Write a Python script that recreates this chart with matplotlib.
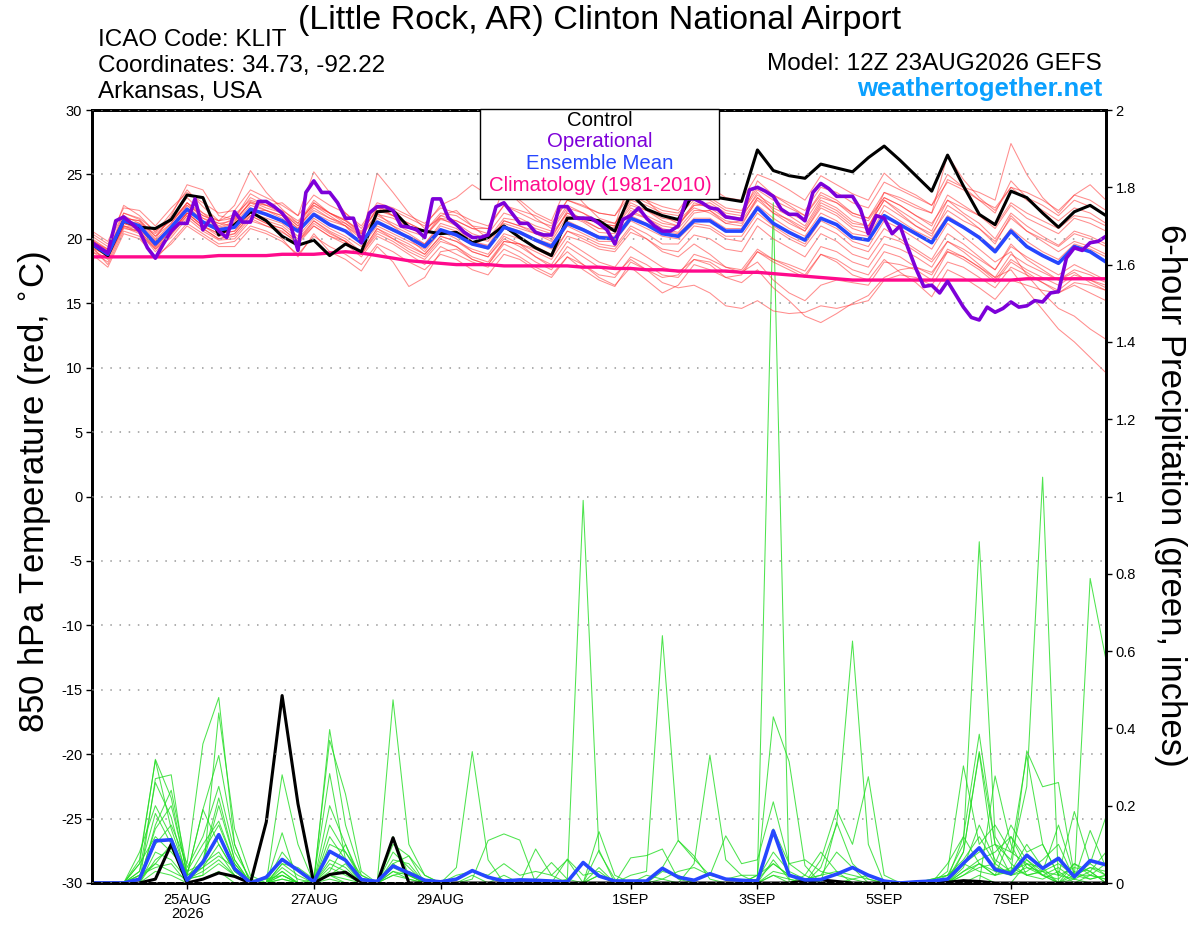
import numpy as np
import matplotlib
matplotlib.use('Agg')
import matplotlib.pyplot as plt
import matplotlib.dates as mdates
from matplotlib.patches import Rectangle
import pandas as pd

plt.rcParams['font.family'] = ['Liberation Sans', 'DejaVu Sans']

# ---------------- data ----------------
t6 = pd.date_range('2026-08-23 12:00', '2026-09-08 12:00', freq='6h')
t3 = pd.date_range('2026-08-23 12:00', '2026-09-08 12:00', freq='3h')

control_t = [19.6,18.7,21.4,20.9,20.8,21.5,23.4,23.2,20.3,21.1,22.1,
             21.4,20.2,19.5,19.9,18.7,19.6,19.0,22.1,22.2,20.9,20.6,
             20.4,20.5,19.7,20.1,21.0,20.1,19.3,18.7,21.6,21.6,21.4,
             20.6,23.5,22.3,21.8,21.5,23.6,23.3,23.1,22.9,26.9,25.3,
             24.9,24.7,25.8,25.5,25.2,26.3,27.2,26.1,24.9,23.7,26.5,
             24.1,21.9,21.1,23.7,23.2,22.0,20.9,22.1,22.6,21.8]

mean_t = [19.6,18.8,21.4,21.0,19.6,20.9,22.3,21.3,20.7,20.9,22.3,
          21.9,21.4,20.6,21.9,21.1,20.6,19.7,21.3,20.7,20.1,19.4,
          20.7,20.3,19.6,19.3,20.9,20.5,19.9,19.4,21.2,20.7,20.1,
          20.0,21.6,21.1,20.4,20.2,21.4,21.4,20.6,20.6,22.4,21.2,
          20.5,19.9,21.6,21.1,20.1,19.9,21.8,21.1,20.4,19.7,21.6,
          20.9,20.1,19.0,20.6,19.4,18.7,18.1,19.4,19.0,18.2]

clim_t = [18.6,18.6,18.6,18.6,18.6,18.6,18.6,18.6,18.7,18.7,18.7,
          18.7,18.8,18.8,18.8,18.9,19.0,18.9,18.7,18.5,18.3,18.2,
          18.1,18.0,18.0,18.0,17.9,17.9,17.9,17.9,17.9,17.8,17.8,
          17.7,17.7,17.6,17.6,17.5,17.5,17.5,17.5,17.4,17.4,17.3,
          17.2,17.1,17.0,16.9,16.8,16.8,16.8,16.8,16.8,16.8,16.8,
          16.8,16.8,16.8,16.8,16.9,16.9,16.9,16.9,16.9,16.9]

oper_t = [19.7,19.3,18.9,21.4,21.7,21.2,20.6,19.3,18.5,19.6,20.6,21.2,21.2,23.1,20.7,21.6,
          20.6,20.1,22.1,21.3,21.3,22.9,22.9,22.5,22.0,21.2,19.1,23.6,24.5,23.6,23.6,22.8,
          21.6,21.6,19.7,22.0,22.5,22.5,22.2,21.0,20.9,20.7,20.1,23.1,23.1,21.6,21.1,20.5,
          20.1,20.1,20.3,22.5,22.8,22.0,21.2,21.2,20.5,20.3,20.3,22.5,22.5,21.6,21.6,21.6,
          21.2,20.7,19.6,21.5,21.8,22.4,21.6,21.0,20.6,20.6,21.0,23.1,23.1,22.8,22.4,22.3,
          21.7,21.6,21.5,23.8,24.0,23.7,23.3,22.3,21.9,21.9,21.4,23.6,24.3,23.9,23.3,23.3,
          23.3,22.3,20.4,21.8,21.6,20.4,21.0,19.3,17.7,16.3,16.4,15.8,16.7,15.7,14.7,13.9,
          13.7,14.7,14.3,14.6,15.1,14.7,14.8,15.2,15.1,15.8,15.9,18.5,19.3,19.1,19.7,19.8,
          20.2]

mem_a = [19.9,19.0,22.0,21.5,20.2,21.6,23.2,22.0,21.0,21.6,23.5,
         22.8,22.0,21.0,22.8,22.0,21.5,20.5,22.4,21.8,21.2,20.6,
         22.0,21.8,21.0,20.8,22.6,22.0,21.4,21.0,23.0,22.5,22.0,
         21.8,23.8,23.0,22.5,22.2,23.9,24.0,23.2,23.0,25.0,24.5,
         23.8,23.0,24.9,24.2,23.5,23.0,25.1,24.0,23.4,22.6,25.0,
         24.0,23.0,22.0,24.5,23.2,22.6,21.8,23.0,22.5,21.8]
mem_b = [19.2,18.4,21.0,20.5,19.0,20.3,21.8,20.8,20.0,20.2,21.6,
         21.0,20.5,19.8,21.0,20.2,19.8,18.8,20.4,19.8,19.0,18.4,
         19.8,19.4,18.6,18.2,19.8,19.6,19.0,18.4,20.2,19.8,19.2,
         19.0,20.5,20.0,19.2,19.0,20.3,20.0,19.2,19.0,21.0,20.0,
         19.3,18.6,20.4,19.8,18.8,18.4,20.2,19.8,19.0,18.2,19.8,
         19.0,18.0,17.0,17.6,16.0,14.5,13.0,12.0,10.8,9.6]
mem_c = [20.2,19.4,22.6,21.8,20.5,22.0,23.8,22.5,21.4,22.6,25.3,
         23.6,22.3,21.2,23.0,22.0,21.2,20.2,22.0,21.0,20.4,19.6,
         21.2,20.8,19.8,19.5,21.4,21.0,20.4,19.8,21.8,21.3,20.5,
         20.4,22.2,21.6,20.8,20.5,22.0,22.2,21.2,21.0,23.2,22.0,
         21.5,20.8,22.8,22.2,21.2,21.0,23.0,22.2,21.4,20.6,23.0,
         22.0,21.2,20.0,22.0,21.0,20.2,19.5,20.6,20.2,19.6]
mem_d = [19.0,18.2,20.8,20.6,19.3,20.4,22.0,21.0,20.2,20.4,21.8,
         21.2,20.8,19.8,21.4,20.5,19.8,18.9,20.8,20.0,19.2,18.6,
         20.0,19.4,18.4,18.0,19.6,19.0,18.2,17.6,19.4,18.6,17.8,
         17.2,18.4,17.6,16.6,16.2,16.4,15.8,14.8,14.6,15.2,14.4,
         14.2,14.3,14.8,14.6,14.9,15.2,16.8,17.2,17.0,16.4,18.2,
         17.8,17.0,16.2,17.8,17.2,16.6,16.0,17.0,16.8,16.2]
mem_e = [19.8,19.2,21.2,20.8,19.8,20.6,22.0,21.6,21.2,21.0,22.2,
         22.2,21.8,20.8,22.6,21.8,21.0,19.6,21.6,21.0,20.0,19.0,
         20.6,20.0,19.0,18.6,20.2,19.6,18.6,17.8,19.0,18.0,17.0,
         16.4,17.8,16.8,15.8,16.4,18.0,17.6,17.0,17.2,19.0,18.4,
         18.0,17.5,19.4,19.0,18.2,17.8,19.6,19.2,18.6,17.8,19.8,
         19.2,18.4,17.6,19.4,18.6,17.9,17.2,18.0,17.4,16.8]
mem_f = [19.5,18.9,21.8,21.2,19.9,21.2,22.8,21.6,20.9,21.3,22.9,
         22.4,22.0,21.0,22.2,21.6,21.2,20.4,21.9,21.6,20.9,20.2,
         21.5,21.2,20.4,20.0,21.6,21.4,20.8,20.4,22.0,21.6,21.2,
         21.0,22.6,22.2,21.6,21.4,22.6,22.8,22.0,21.8,23.4,22.6,
         22.0,21.4,23.2,22.8,22.0,21.6,23.6,23.2,22.6,22.0,24.6,
         24.0,23.6,23.0,27.4,25.0,23.2,22.0,23.4,23.0,22.2]
mem_g = [19.7,18.6,21.6,21.4,20.0,21.8,24.2,23.8,21.8,21.5,22.8,
         22.6,22.8,21.8,25.2,23.6,22.0,20.8,22.6,21.8,21.0,20.2,
         21.8,22.2,21.0,20.0,21.2,20.8,20.4,20.0,22.2,21.5,20.8,
         20.9,22.4,21.8,21.2,21.0,22.8,22.4,21.6,21.6,23.6,22.2,
         21.4,20.6,22.4,21.8,20.8,20.4,22.6,21.8,21.0,20.4,22.2,
         21.4,20.8,19.8,21.6,20.6,20.0,19.4,20.4,20.0,19.4]
mem_h = [19.4,18.0,20.6,20.2,18.4,19.8,21.2,20.4,19.6,19.8,21.0,
         20.6,20.0,18.6,20.4,19.0,18.4,17.5,19.4,18.2,16.3,17.0,
         19.0,19.2,18.4,18.0,19.8,19.6,19.2,18.6,20.6,20.2,19.6,
         19.4,21.0,20.4,19.6,19.6,21.0,20.8,20.0,19.8,21.6,20.8,
         20.0,19.4,21.0,20.4,19.4,19.0,20.8,20.0,19.2,18.4,20.4,
         19.6,18.6,17.6,19.6,18.4,17.6,16.8,17.4,16.6,16.0]
mem_i = [20.0,19.2,21.4,21.2,20.4,21.4,22.6,21.8,21.4,21.9,23.0,
         22.6,22.2,21.4,22.6,22.0,21.4,20.4,22.4,22.2,21.6,21.0,
         22.6,23.2,24.2,23.4,24.0,22.8,21.6,20.8,22.6,22.0,21.2,
         21.0,24.8,23.0,21.8,21.2,22.4,22.0,21.2,21.4,23.2,22.4,
         21.8,21.0,23.0,22.4,21.4,21.0,23.0,22.0,21.0,20.2,22.6,
         21.8,20.8,19.6,21.8,20.6,19.8,19.0,19.8,19.4,18.8]
mem_j = [19.3,18.7,21.2,20.8,19.4,20.6,22.0,21.0,20.4,20.6,22.0,
         21.6,21.2,20.2,21.6,20.8,20.2,19.4,21.0,20.4,19.8,19.2,
         20.6,20.2,19.6,19.2,20.8,20.4,19.8,19.2,21.0,20.4,19.8,
         19.8,21.4,20.8,20.2,20.0,21.2,21.0,20.2,20.2,22.0,21.0,
         20.2,19.6,21.4,20.8,19.8,19.4,21.4,20.8,20.0,19.2,21.2,
         20.2,19.2,18.2,19.0,17.2,15.8,14.6,14.0,13.0,12.2]
mem_k = [19.6,19.0,21.6,21.0,19.8,21.0,22.6,21.4,20.8,21.2,22.6,
         22.2,21.6,20.6,22.0,21.4,21.0,20.0,25.1,23.6,22.0,20.8,
         21.6,21.0,20.2,19.8,21.4,21.0,20.6,20.2,22.0,21.4,20.8,
         20.6,22.0,21.6,21.0,20.8,22.2,22.2,21.4,21.2,23.0,22.0,
         21.2,20.6,22.6,22.0,21.0,20.8,23.6,23.0,22.4,22.0,26.5,
         24.6,23.2,22.2,24.0,23.0,22.2,21.4,22.4,22.0,21.2]
mem_l = [19.0,18.5,20.9,20.4,19.2,20.1,21.6,20.6,19.9,20.0,21.4,
         21.0,20.6,19.6,21.0,20.2,19.6,18.6,20.2,19.6,18.8,18.0,
         19.4,18.8,18.2,17.8,19.2,18.6,17.8,17.2,18.6,17.6,16.8,
         16.3,18.2,17.6,17.0,17.2,18.8,18.4,17.8,17.6,19.2,18.4,
         17.8,17.2,18.8,18.2,17.2,16.8,18.4,17.4,16.6,15.5,17.6,
         17.0,16.2,15.3,16.8,16.4,16.0,15.8,16.6,16.4,16.0]
mem_m = [19.8,18.9,21.2,21.0,19.7,21.0,22.4,21.2,20.6,21.0,22.4,
         21.8,21.4,20.6,21.8,21.0,20.6,19.8,21.2,20.6,20.2,19.6,
         21.0,20.6,19.8,19.4,21.0,20.6,20.0,19.6,21.4,20.8,20.2,
         20.2,21.8,21.2,20.6,20.4,21.6,21.6,20.8,20.8,22.6,21.6,
         20.8,20.2,22.0,21.4,20.4,20.2,22.2,21.4,20.6,20.0,21.8,
         21.0,20.2,19.2,20.8,19.8,19.0,18.4,19.6,19.2,18.6]
mem_n = [20.4,19.6,22.0,21.6,20.6,21.4,22.8,22.0,21.4,21.6,23.2,
         22.6,22.0,21.2,22.8,22.0,21.4,20.6,22.2,21.8,21.2,20.6,
         21.8,21.4,20.8,20.4,22.0,21.6,21.0,20.6,22.4,22.0,21.4,
         21.2,23.0,22.6,22.0,21.8,23.0,23.2,22.4,22.2,24.0,23.4,
         22.8,22.2,24.0,23.6,22.8,22.4,24.4,23.8,23.2,22.6,24.4,
         23.8,23.0,22.4,24.0,23.6,23.0,22.2,23.4,24.2,23.0]
mem_o = [19.4,18.6,21.0,20.8,19.4,20.6,22.0,21.0,20.4,20.6,22.0,
         21.4,21.0,20.0,21.4,20.6,20.0,19.0,20.8,20.2,19.6,18.8,
         20.2,19.8,19.0,18.6,20.0,19.4,18.6,18.0,19.8,19.0,18.2,
         17.8,19.4,18.6,17.8,17.4,18.4,18.0,17.0,16.6,17.6,16.2,
         15.2,14.0,13.5,14.2,15.0,15.6,17.0,17.6,17.8,17.4,19.0,
         18.6,17.8,17.0,18.8,18.0,17.4,16.8,17.6,17.2,16.6]
mem_p = [20.6,19.8,22.4,22.2,21.0,22.4,23.6,22.8,22.0,22.2,23.8,
         23.2,22.6,21.8,23.4,22.6,22.0,21.0,22.8,22.4,21.8,21.2,
         22.4,22.0,21.4,21.0,22.6,22.2,21.8,21.2,23.0,22.6,22.0,
         21.8,23.4,22.8,22.2,22.0,23.2,23.0,22.2,22.0,23.8,23.0,
         22.4,21.8,23.4,22.8,21.8,21.4,23.2,22.6,21.8,21.0,23.4,
         22.6,21.8,20.8,22.6,21.6,21.0,20.4,21.6,21.2,20.6]
mem_q = [18.8,17.8,20.4,20.0,18.6,19.6,21.0,20.2,19.4,19.4,20.8,
         20.4,19.8,18.8,20.2,19.4,18.8,18.0,19.6,19.0,18.2,17.6,
         18.8,18.4,17.6,17.2,18.8,18.4,17.6,17.0,18.6,18.0,17.2,
         17.0,18.6,18.0,17.2,17.0,18.4,18.2,17.4,17.4,19.0,18.2,
         17.6,17.0,18.8,18.4,17.6,17.2,19.0,18.6,17.8,17.2,19.2,
         18.6,17.8,16.8,18.4,17.6,17.0,16.4,17.2,16.8,16.4]
mem_r = [19.9,19.1,21.6,21.4,20.2,21.2,22.8,21.8,21.2,21.4,22.8,
         22.2,21.8,20.8,22.4,21.6,21.0,20.2,21.8,21.2,20.6,20.2,
         21.6,21.4,20.8,20.8,24.0,23.0,22.0,21.4,24.2,22.8,21.6,
         21.2,22.8,22.2,21.4,21.0,22.6,22.6,21.8,21.6,24.5,23.4,
         22.6,21.8,23.6,23.0,22.0,21.6,23.2,22.6,21.8,21.2,23.0,
         22.4,21.8,21.0,22.8,22.0,21.4,20.8,21.8,21.6,21.0]
mem_s = [19.5,18.6,21.0,20.6,19.2,20.4,21.8,20.8,20.0,20.4,21.8,
         21.2,20.8,19.8,21.2,20.4,19.8,18.8,20.6,20.0,19.4,18.8,
         20.2,19.8,19.2,18.8,20.4,20.0,19.4,18.8,20.6,20.0,19.4,
         19.2,20.8,20.0,19.0,18.6,19.6,18.8,17.8,17.4,18.2,16.8,
         15.8,15.2,16.4,16.8,16.6,16.4,18.2,18.0,17.6,16.8,19.0,
         18.4,17.6,16.6,18.2,17.4,16.6,15.8,16.4,15.8,15.2]
temp_members = [mem_a, mem_b, mem_c, mem_d, mem_e, mem_f, mem_g, mem_h, mem_i, mem_j,
                mem_k, mem_l, mem_m, mem_n, mem_o, mem_p, mem_q, mem_r, mem_s]

control_p = [0,0,0,0,0.01,0.10,0,0.01,0.026,0.017,0,
             0.158,0.485,0.205,0,0.022,0.028,0,0,0.117,0,0,
             0,0,0,0,0,0,0,0,0,0,0,
             0,0,0,0,0,0,0,0,0,0,0,
             0,0.005,0.008,0.004,0,0,0,0,0,0,0.002,
             0.006,0.004,0,0,0,0,0,0,0,0]
mean_p = [0,0,0,0.01,0.109,0.112,0.007,0.054,0.125,0.037,0,
          0.015,0.061,0.033,0.003,0.082,0.059,0.009,0.004,0.044,0.026,0.007,
          0.003,0.01,0.032,0.015,0.005,0.008,0.007,0.005,0.003,0.053,0.018,
          0.005,0.005,0.005,0.038,0.015,0.007,0.024,0.01,0.007,0.005,0.135,
          0.02,0.008,0.009,0.023,0.04,0.02,0.005,0,0.003,0.005,0.01,
          0.051,0.091,0.035,0.024,0.072,0.038,0.064,0.016,0.058,0.047]

pm_01 = [0,0,0,0.02,0.10,0.15,0.05,0.36,0.48,0.10,0,
         0,0.02,0,0,0.05,0.03,0,0,0,0,0,
         0,0,0,0,0,0,0,0,0,0,0.02,
         0,0,0,0,0,0,0,0,0,0.02,1.76,
         0,0.02,0,0,0,0,0,0,0,0,0,
         0,0.02,0,0,0.05,0.04,0,0,0,0]
pm_02 = [0,0,0,0.05,0.32,0.22,0.02,0.05,0.12,0.04,0,
         0,0.05,0.02,0,0.06,0.04,0,0,0.04,0.02,0,
         0,0,0.02,0,0,0,0,0,0.01,0.99,0.08,
         0.01,0,0,0.03,0.02,0,0,0,0,0.01,0.05,
         0.02,0,0,0,0,0,0,0,0,0,0.01,
         0.12,0.05,0.02,0.03,0.05,0.02,0.04,0.01,0.03,0]
pm_03 = [0,0,0,0,0.27,0.28,0.01,0.02,0.44,0.14,0.02,
         0,0.01,0,0,0.02,0.05,0,0,0.1,0.07,0,
         0,0,0,0,0,0,0,0,0,0,0,
         0,0.02,0.03,0.64,0.11,0.07,0.01,0,0,0,0.02,
         0.01,0,0,0,0,0,0,0,0,0,0,
         0.08,0.34,0.1,0.02,0.06,0.02,0,0.05,0.03,0]
pm_04 = [0,0,0,0.03,0.26,0.17,0.01,0.08,0.15,0.05,0,
         0.01,0.02,0,0,0.12,0.06,0,0,0,0,0,
         0,0,0,0,0,0,0,0,0,0,0,
         0,0,0,0,0,0,0,0,0,0,0.03,
         0.02,0.01,0.02,0.08,0.04,0,0,0,0,0,0,
         0.05,0.08,0.1,0.06,0.25,1.05,0,0.02,0.04,0.03]
pm_05 = [0,0,0,0.08,0.2,0.12,0.02,0.19,0.33,0.1,0,
         0,0.13,0,0,0.04,0.02,0,0,0.474,0.1,0.02,
         0,0,0,0,0.02,0,0,0,0,0,0,
         0,0,0,0.01,0,0,0,0,0,0,0,
         0,0,0,0,0,0,0,0,0,0,0.02,
         0.1,0.883,0.12,0.05,0.02,0.01,0.03,0,0.02,0.01]
pm_06 = [0,0,0,0,0.15,0.24,0.04,0.12,0.25,0.08,0.01,
         0,0.28,0.1,0,0.397,0.15,0.02,0,0.05,0.02,0,
         0,0,0,0,0,0,0,0,0,0,0,
         0,0,0,0,0,0,0,0,0,0,0,
         0,0,0.04,0.15,0.626,0.1,0,0,0,0,0,
         0.03,0.05,0.02,0.12,0.04,0.02,0,0.01,0,0]
pm_07 = [0,0,0,0.05,0.12,0.08,0.03,0.05,0.2,0.06,0,
         0,0.05,0.04,0.01,0.369,0.23,0.03,0,0.06,0.05,0,
         0,0,0,0,0,0,0,0,0,0,0,
         0,0,0,0,0,0,0,0,0,0,0,
         0,0,0,0,0,0,0,0,0,0,0,
         0.02,0.05,0.03,0.02,0.04,0.03,0.02,0.01,0.788,0.577]
pm_08 = [0,0,0,0.01,0.05,0.1,0.02,0.04,0.1,0.03,0,
         0,0.01,0,0.01,0.283,0.06,0,0,0.12,0.02,0,
         0,0,0.01,0.11,0.127,0.111,0,0,0,0,0,
         0,0,0,0,0,0,0,0,0,0.02,0.43,
         0.314,0.045,0,0,0,0,0,0,0,0,0,
         0,0,0.277,0.1,0.02,0.03,0,0.03,0.01,0.02]
pm_09 = [0,0,0,0,0.08,0.06,0.01,0.03,0.06,0.02,0,
         0,0.03,0,0,0.02,0.01,0,0,0.03,0.02,0,
         0,0.04,0.34,0.06,0,0,0,0,0,0,0,
         0,0,0,0,0,0.05,0.331,0.06,0.02,0,0.02,
         0,0,0,0,0.01,0.02,0,0,0,0,0.03,
         0.303,0.1,0.15,0.08,0.05,0.02,0.01,0.05,0.02,0.01]
pm_10 = [0,0,0,0.02,0.05,0.03,0.01,0.02,0.05,0.02,0,
         0,0,0,0,0.02,0,0,0,0,0,0,
         0,0,0,0,0,0,0.088,0.02,0.06,0,0.133,
         0.02,0,0,0,0,0,0,0,0,0,0,
         0,0,0.06,0.19,0.1,0.275,0.02,0,0,0,0.01,
         0.08,0.336,0.04,0.03,0.342,0.249,0.26,0.02,0.05,0.02]
pm_11 = [0,0,0,0,0.03,0.02,0,0.01,0.03,0,0,
         0,0,0,0,0.01,0,0,0,0,0,0,
         0,0,0,0,0,0,0.01,0.053,0.01,0,0.085,
         0,0.065,0.071,0.088,0.01,0,0,0,0,0,0,
         0,0,0,0.157,0.05,0.01,0,0,0,0,0.05,
         0.12,0.385,0.1,0.08,0.33,0.1,0.02,0.185,0.05,0.172]
pm_12 = [0,0,0,0,0.06,0.09,0.01,0.04,0.07,0.04,0,
         0,0,0,0,0,0,0,0,0.02,0.01,0,
         0,0,0,0,0,0,0,0,0.062,0.02,0.03,
         0,0,0,0.04,0.11,0.062,0.02,0.122,0.05,0.06,0.21,
         0.05,0.06,0.03,0.02,0.01,0,0,0,0,0,0,
         0.02,0.04,0.05,0.02,0.03,0.06,0.1,0.01,0.136,0.04]
pm_13 = [0,0,0,0.06,0.317,0.14,0.02,0.19,0.1,0.03,0,
         0,0.08,0.03,0,0.15,0.08,0.02,0,0.05,0.07,0.02,
         0,0,0,0,0,0,0,0,0,0,0,
         0,0,0,0,0,0,0,0,0,0,0.14,
         0.05,0.02,0.08,0.03,0,0,0,0,0,0.01,0.02,
         0.06,0.12,0.05,0.15,0.08,0.1,0.02,0.04,0.03,0.08]
pm_14 = [0,0,0,0.02,0.04,0.05,0,0.05,0.08,0.02,0,
         0,0.02,0,0,0.03,0.1,0.01,0,0.02,0.03,0.01,
         0,0.02,0.03,0.02,0.05,0.02,0.03,0.02,0,0,0.02,
         0,0,0.02,0.01,0.03,0.04,0.02,0.01,0.02,0.02,0.05,
         0.02,0.01,0.02,0.03,0.02,0.01,0,0,0,0.01,0.02,
         0.05,0.03,0.02,0.04,0.02,0.03,0.05,0.02,0.02,0.05]
pm_15 = [0,0,0,0.03,0.18,0.1,0.01,0.06,0.22,0.06,0,
         0,0.04,0.01,0,0.1,0.08,0.01,0,0.08,0.04,0,
         0,0,0,0,0,0,0,0,0,0,0.04,
         0,0,0,0,0,0,0,0,0,0.01,0.08,
         0.03,0.01,0,0,0,0,0,0,0,0,0,
         0.04,0.15,0.06,0.03,0.1,0.04,0.06,0.02,0.04,0.02]
pm_16 = [0,0,0,0.01,0.14,0.2,0.03,0.1,0.16,0.05,0,
         0,0.03,0,0,0.2,0.1,0,0,0.03,0.01,0,
         0,0,0,0,0,0,0,0,0,0,0,
         0,0,0,0,0,0,0,0,0,0,0.06,
         0.01,0,0,0,0,0,0,0,0,0,0,
         0.03,0.06,0.08,0.12,0.06,0.03,0.15,0.02,0.01,0.02]
precip_members = [pm_01, pm_02, pm_03, pm_04, pm_05, pm_06, pm_07, pm_08,
                  pm_09, pm_10, pm_11, pm_12, pm_13, pm_14, pm_15, pm_16]

temp_ticks = list(range(-30, 31, 5))
precip_ticks = [0, 0.2, 0.4, 0.6, 0.8, 1.0, 1.2, 1.4, 1.6, 1.8, 2.0]
precip_ticklabels = ['0', '0.2', '0.4', '0.6', '0.8', '1', '1.2', '1.4', '1.6', '1.8', '2']
date_ticks = pd.to_datetime(['2026-08-25', '2026-08-27', '2026-08-29', '2026-09-01',
                             '2026-09-03', '2026-09-05', '2026-09-07'])
date_labels = ['25AUG\n2026', '27AUG', '29AUG', '1SEP', '3SEP', '5SEP', '7SEP']

legend_items = [('Control', '#000000'), ('Operational', '#7d00d9'),
                ('Ensemble Mean', '#2647ff'), ('Climatology (1981-2010)', '#ff0a8c')]

# ---------------- figure ----------------
W, H = 1200, 927
fig = plt.figure(figsize=(W / 100, H / 100), dpi=100)
L, R, T, B = 92, 1106, 110, 883
ax = fig.add_axes([L / W, 1 - B / H, (R - L) / W, (B - T) / H])
ax2 = ax.twinx()
ax.set_zorder(ax2.get_zorder() + 1)
ax.patch.set_visible(False)

for m in temp_members:
    ax.plot(t6, m, color='#ff3030', lw=0.75, alpha=0.55)
ax.plot(t6, clim_t, color='#ff0a8c', lw=2.4, solid_capstyle='round')
ax.plot(t6, control_t, color='black', lw=2.2)
ax.plot(t6, mean_t, color='#2647ff', lw=2.6)
ax.plot(t3, oper_t, color='#7d00d9', lw=2.6)

for m in precip_members:
    ax2.plot(t6, m, color='#22dd22', lw=0.75, alpha=0.8)
ax2.plot(t6, control_p, color='black', lw=2.2)
ax2.plot(t6, mean_p, color='#2647ff', lw=2.6)

ax.set_ylim(-30, 30)
ax2.set_ylim(0, 2)
ax.set_xlim(t6[0], t6[-1])
ax.set_yticks(temp_ticks)
ax.set_yticklabels([str(v) for v in temp_ticks])
ax2.set_yticks(precip_ticks)
ax2.set_yticklabels(precip_ticklabels)
ax.set_xticks(date_ticks)
ax.set_xticklabels(date_labels, linespacing=1.0)
ax.yaxis.grid(True, linestyle=(0, (1, 5)), color='#999999', lw=1.1)
ax.set_axisbelow(False)

for a in (ax, ax2):
    for s in a.spines.values():
        s.set_linewidth(2.0)
    a.tick_params(direction='out', length=4, width=1, labelsize=10.5, pad=3)

# ---------------- texts ----------------
fig.text(0.5, 1 - 20 / H, '(Little Rock, AR) Clinton National Airport',
         ha='center', va='center', fontsize=24.5)
fig.text(98 / W, 1 - 40 / H, 'ICAO Code: KLIT', ha='left', va='center', fontsize=17.5)
fig.text(98 / W, 1 - 66 / H, 'Coordinates: 34.73, -92.22', ha='left', va='center', fontsize=17.5)
fig.text(98 / W, 1 - 92 / H, 'Arkansas, USA', ha='left', va='center', fontsize=17.5)
fig.text(1102 / W, 1 - 64 / H, 'Model: 12Z 23AUG2026 GEFS', ha='right', va='center', fontsize=17.5)
fig.text(1102 / W, 1 - 89 / H, 'weathertogether.net', ha='right', va='center',
         fontsize=18.5, fontweight='bold', color='#0aa0ff')
fig.text(35 / W, 1 - 492 / H, '850 hPa Temperature (red, $^{\\circ}$C)', rotation=90,
         ha='center', va='center', fontsize=25)
fig.text(1170 / W, 1 - 495 / H, '6-hour Precipitation (green, inches)', rotation=270,
         ha='center', va='center', fontsize=25)

# legend box
bx0, bx1, by0, by1 = 480, 719, 109, 199
fig.add_artist(Rectangle((bx0 / W, 1 - by1 / H), (bx1 - bx0) / W, (by1 - by0) / H,
                         transform=fig.transFigure, facecolor='white', edgecolor='black',
                         lw=1.0, zorder=10))
for k, (lab, col) in enumerate(legend_items):
    fig.text(600 / W, 1 - (120 + 21.7 * k) / H, lab, ha='center', va='center',
             fontsize=14.7, color=col, zorder=11)

fig.savefig('out.png', dpi=100)
